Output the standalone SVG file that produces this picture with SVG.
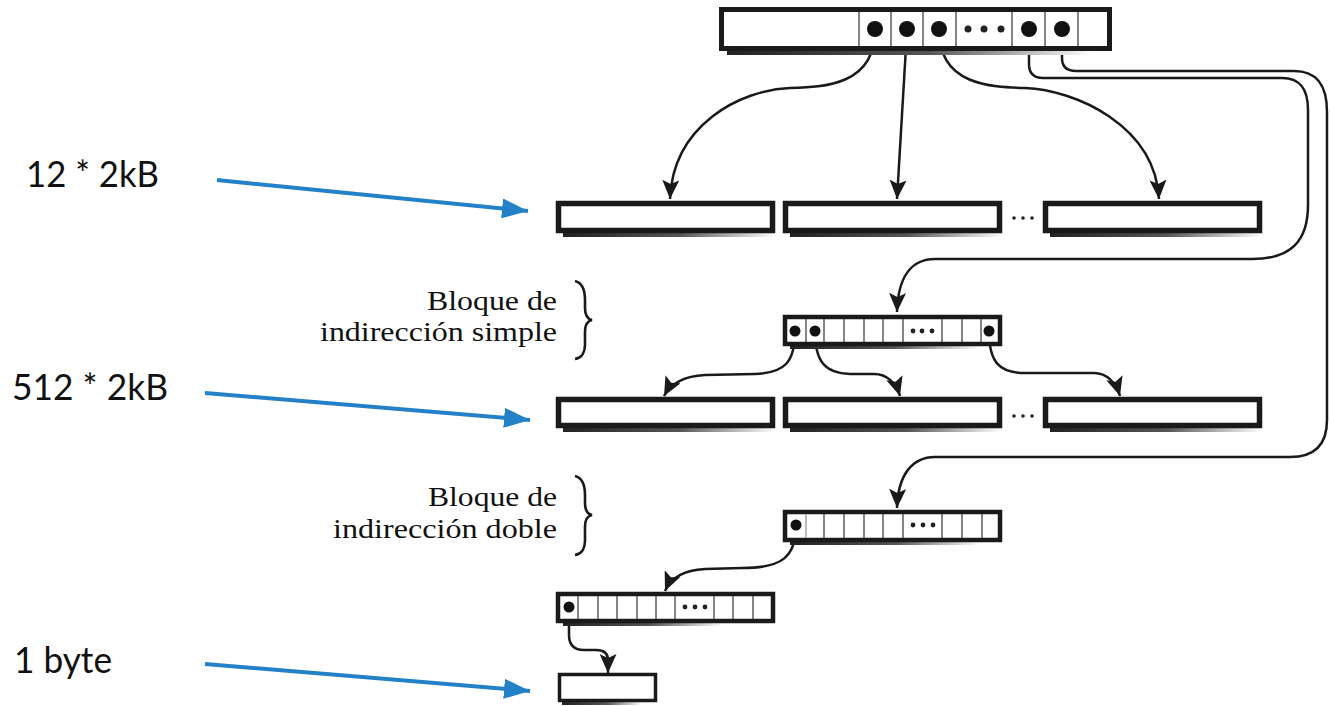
<svg xmlns="http://www.w3.org/2000/svg" width="1330" height="706" viewBox="0 0 1330 706">
<style>
.blk{fill:#fff;stroke:#1a1a1a;stroke-width:5.5}
.iblk{fill:#fff;stroke:#1a1a1a;stroke-width:4.5}
.div{stroke:#444;stroke-width:1.3}
.con{fill:none;stroke:#1a1a1a;stroke-width:2.5}
.dot{fill:#111}
.sdot{fill:#222}
.lbl{font-family:"Liberation Serif","Times New Roman",serif;font-size:28px;fill:#111}
.note{font-family:Lato,"Liberation Sans",sans-serif;font-size:36px;fill:#111}
.blue{fill:none;stroke:#2381c7;stroke-width:4}
.brace{fill:none;stroke:#1a1a1a;stroke-width:2.6}
</style>
<defs>
<linearGradient id="sh" x1="0" y1="0" x2="1" y2="0">
<stop offset="0" stop-color="#222"/>
<stop offset="0.55" stop-color="#555"/>
<stop offset="1" stop-color="#fff"/>
</linearGradient>
<marker id="ah" markerUnits="userSpaceOnUse" markerWidth="19" markerHeight="17" refX="19" refY="8.5" orient="auto">
<path d="M0,0 L19,8.5 L0,17 L4,8.5 z" fill="#1a1a1a"/>
</marker>
<marker id="bh" markerUnits="userSpaceOnUse" markerWidth="26" markerHeight="20" refX="26" refY="10" orient="auto">
<path d="M0,0 L26,10 L0,20 z" fill="#2381c7"/>
</marker>
</defs>

<g id="connectors">
<path class="con" d="M875,30 C875,85 825,87 790,88 C740,90 673,125 670,199" marker-end="url(#ah)"/>
<path class="con" d="M907,30 L897,199" marker-end="url(#ah)"/>
<path class="con" d="M939,30 C939,85 990,87 1025,88 C1075,90 1155,125 1159,199" marker-end="url(#ah)"/>
<path class="con" d="M1029,30 L1029,64 Q1029,78 1043,78 L1282,78 C1301,78 1308,90 1308,110 L1308,205 C1308,240 1292,259 1252,259 L935,259 C912,259 898,276 897,312" marker-end="url(#ah)"/>
<path class="con" d="M1062,30 L1062,58 Q1062,71 1076,71 L1294,71 C1317,71 1327,85 1327,112 L1327,420 C1327,445 1314,457 1290,457 L935,457 C912,457 898,475 897,508" marker-end="url(#ah)"/>
<path class="con" d="M795,331 C795,362 785,373 755,374 L705,375 C686,376 671,383 664,396" marker-end="url(#ah)"/>
<path class="con" d="M815,331 C815,362 825,373 850,374 L874,374 C887,374 896,383 900,396" marker-end="url(#ah)"/>
<path class="con" d="M989,331 C989,362 999,373 1025,373 L1094,373 C1107,373 1116,383 1120,396" marker-end="url(#ah)"/>
<path class="con" d="M796,525 C796,558 781,568 742,568 L705,569 C686,570 671,577 665,591" marker-end="url(#ah)"/>
<path class="con" d="M569,607 L569,635 Q569,650 584,650 L596,650 Q608,650 608,660 L608,673" marker-end="url(#ah)"/>
<line class="blue" x1="217" y1="180" x2="528" y2="211" marker-end="url(#bh)"/>
<line class="blue" x1="205" y1="393" x2="530" y2="420" marker-end="url(#bh)"/>
<line class="blue" x1="205" y1="664" x2="530" y2="691" marker-end="url(#bh)"/>
</g>

<g id="inode">
<rect x="727" y="50" width="366" height="5" fill="url(#sh)"/>
<rect x="721.5" y="9.5" width="388" height="39" fill="#fff" stroke="#1a1a1a" stroke-width="5"/>
<g class="div">
<line x1="859" y1="12" x2="859" y2="46"/><line x1="891" y1="12" x2="891" y2="46"/>
<line x1="923" y1="12" x2="923" y2="46"/><line x1="956" y1="12" x2="956" y2="46"/>
<line x1="1012" y1="12" x2="1012" y2="46"/><line x1="1045" y1="12" x2="1045" y2="46"/>
<line x1="1078" y1="12" x2="1078" y2="46"/>
</g>
<circle class="dot" cx="875" cy="29" r="8"/><circle class="dot" cx="907" cy="29" r="8"/>
<circle class="dot" cx="939" cy="29" r="8"/><circle class="dot" cx="1029" cy="29" r="8"/>
<circle class="dot" cx="1062" cy="29" r="8"/>
<circle class="sdot" cx="968" cy="29" r="3.5"/><circle class="sdot" cx="984" cy="29" r="3.5"/><circle class="sdot" cx="1001" cy="29" r="3.5"/>
</g>

<g id="direct-blocks">
<rect x="563" y="233" width="212" height="4" fill="url(#sh)"/>
<rect class="blk" x="558.5" y="203.5" width="214" height="27"/>
<rect x="790" y="233" width="212" height="4" fill="url(#sh)"/>
<rect class="blk" x="785.5" y="203.5" width="214" height="27"/>
<rect x="1050" y="233" width="212" height="4" fill="url(#sh)"/>
<rect class="blk" x="1045.5" y="203.5" width="214" height="27"/>
<circle class="sdot" cx="1014" cy="218" r="1.8"/><circle class="sdot" cx="1023" cy="218" r="1.8"/><circle class="sdot" cx="1032" cy="218" r="1.8"/>
</g>

<g id="simple-indirect">
<rect x="790" y="345" width="190" height="4" fill="url(#sh)"/>
<rect class="iblk" x="785" y="317" width="215" height="27"/>
<g class="div">
<line x1="806" y1="319" x2="806" y2="342"/><line x1="824" y1="319" x2="824" y2="342"/>
<line x1="844" y1="319" x2="844" y2="342"/><line x1="864" y1="319" x2="864" y2="342"/>
<line x1="883" y1="319" x2="883" y2="342"/><line x1="903" y1="319" x2="903" y2="342"/>
<line x1="942" y1="319" x2="942" y2="342"/><line x1="962" y1="319" x2="962" y2="342"/>
<line x1="981" y1="319" x2="981" y2="342"/>
</g>
<circle class="dot" cx="795" cy="331" r="5.5"/><circle class="dot" cx="815" cy="331" r="5.5"/><circle class="dot" cx="989" cy="331" r="5.5"/>
<circle class="sdot" cx="913" cy="331" r="2.4"/><circle class="sdot" cx="922" cy="331" r="2.4"/><circle class="sdot" cx="932" cy="331" r="2.4"/>
</g>

<g id="simple-data-blocks">
<rect x="563" y="428" width="212" height="4" fill="url(#sh)"/>
<rect class="blk" x="558.5" y="399.5" width="214" height="26"/>
<rect x="790" y="428" width="212" height="4" fill="url(#sh)"/>
<rect class="blk" x="785.5" y="399.5" width="214" height="26"/>
<rect x="1050" y="428" width="212" height="4" fill="url(#sh)"/>
<rect class="blk" x="1045.5" y="399.5" width="214" height="26"/>
<circle class="sdot" cx="1014" cy="416" r="1.8"/><circle class="sdot" cx="1023" cy="416" r="1.8"/><circle class="sdot" cx="1032" cy="416" r="1.8"/>
</g>

<g id="double-indirect">
<rect x="790" y="541" width="190" height="4" fill="url(#sh)"/>
<rect class="iblk" x="785" y="512" width="215" height="28"/>
<g class="div">
<line x1="806" y1="514" x2="806" y2="538" stroke="#999"/><line x1="824" y1="514" x2="824" y2="538"/>
<line x1="844" y1="514" x2="844" y2="538"/><line x1="864" y1="514" x2="864" y2="538"/>
<line x1="883" y1="514" x2="883" y2="538"/><line x1="903" y1="514" x2="903" y2="538"/>
<line x1="942" y1="514" x2="942" y2="538"/><line x1="962" y1="514" x2="962" y2="538"/>
<line x1="982" y1="514" x2="982" y2="538"/>
</g>
<circle class="dot" cx="796" cy="525" r="5.5"/>
<circle class="sdot" cx="913" cy="525" r="2.4"/><circle class="sdot" cx="923" cy="525" r="2.4"/><circle class="sdot" cx="933" cy="525" r="2.4"/>
</g>

<g id="second-level">
<rect x="563" y="622" width="160" height="4" fill="url(#sh)"/>
<rect class="iblk" x="558" y="594" width="215" height="27"/>
<g class="div">
<line x1="578" y1="596" x2="578" y2="619"/><line x1="598" y1="596" x2="598" y2="619"/>
<line x1="617" y1="596" x2="617" y2="619"/><line x1="637" y1="596" x2="637" y2="619"/>
<line x1="656" y1="596" x2="656" y2="619"/><line x1="675" y1="596" x2="675" y2="619"/>
<line x1="714" y1="596" x2="714" y2="619"/><line x1="733" y1="596" x2="733" y2="619"/>
<line x1="753" y1="596" x2="753" y2="619"/>
</g>
<circle class="dot" cx="569" cy="607" r="5.5"/>
<circle class="sdot" cx="685" cy="607" r="2.4"/><circle class="sdot" cx="695" cy="607" r="2.4"/><circle class="sdot" cx="705" cy="607" r="2.4"/>
</g>

<g id="byte-block">
<rect x="562" y="701" width="80" height="4" fill="url(#sh)"/>
<rect x="559.5" y="674.5" width="96" height="26" fill="#fff" stroke="#1a1a1a" stroke-width="3.5"/>
</g>

<g id="label-simple">
<text class="lbl" x="427" y="310" textLength="130" lengthAdjust="spacingAndGlyphs">Bloque de</text>
<text class="lbl" x="320" y="341" textLength="237" lengthAdjust="spacingAndGlyphs">indirección simple</text>
<path class="brace" d="M575,281 C583,283 585,290 585,300 L585,308 C585,315 587,319 592,320 C587,321 585,325 585,332 L585,345 C585,352 582,358 575,359"/>
</g>

<g id="label-double">
<text class="lbl" x="428" y="506" textLength="129" lengthAdjust="spacingAndGlyphs">Bloque de</text>
<text class="lbl" x="333" y="538" textLength="224" lengthAdjust="spacingAndGlyphs">indirección doble</text>
<path class="brace" d="M575,476 C583,478 585,485 585,495 L585,503 C585,510 587,514 592,515 C587,516 585,520 585,527 L585,541 C585,548 582,554 575,555"/>
</g>

<g id="notes">
<text class="note" x="26" y="187" textLength="133" lengthAdjust="spacingAndGlyphs">12 * 2kB</text>
<text class="note" x="12" y="400" textLength="156" lengthAdjust="spacingAndGlyphs">512 * 2kB</text>
<text class="note" x="14" y="673" textLength="98" lengthAdjust="spacingAndGlyphs">1 byte</text>
</g>
</svg>
